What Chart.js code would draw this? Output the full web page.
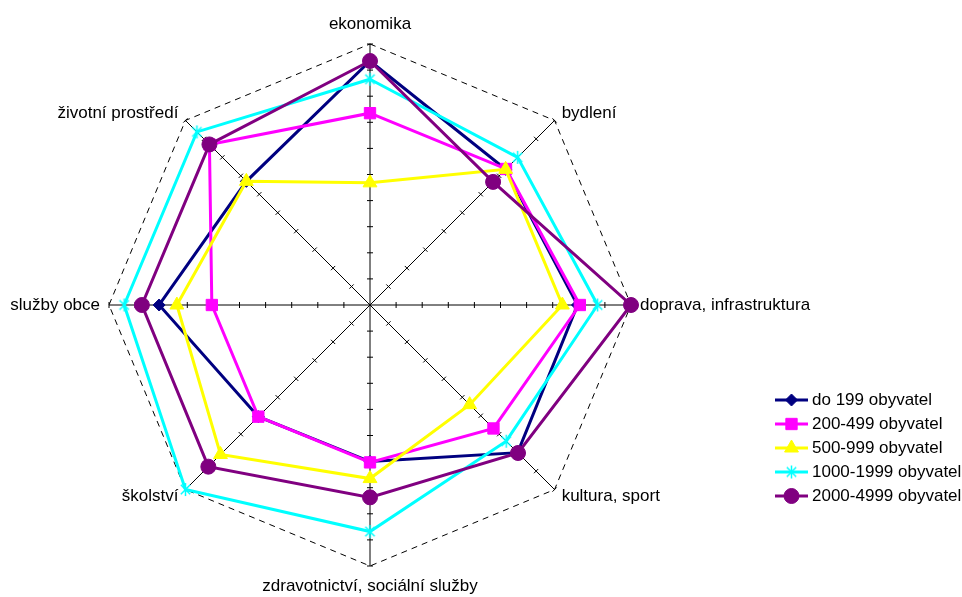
<!DOCTYPE html>
<html lang="cs">
<head>
  <meta charset="UTF-8">
  <title>Spokojenost podle velikosti obce</title>
  <script src="https://cdn.jsdelivr.net/npm/chart.js"></script>
  <style>
    html, body { margin: 0; padding: 0; background: #fff; }
    canvas { display: block; }
  </style>
</head>
<body>
  <canvas id="radar" width="962" height="597"></canvas>

  <script>
    // axes, clockwise from the top
    const axes = ['ekonomika', 'bydlení', 'doprava, infrastruktura', 'kultura, sport',
      'zdravotnictví, sociální služby', 'školství', 'služby obce', 'životní prostředí'];
    const seriesNames = ['do 199 obyvatel', '200-499 obyvatel', '500-999 obyvatel',
      '1000-1999 obyvatel', '2000-4999 obyvatel'];

    // values (10 tick steps from centre to the outer ring)
    const do199 = [9.35, 7.35, 7.95, 8.0, 6.0, 6.05, 8.08, 6.7];
    const od200 = [7.35, 7.37, 8.04, 6.69, 6.03, 6.05, 6.06, 8.7];
    const od500 = [4.68, 7.35, 7.37, 5.4, 6.65, 8.1, 7.4, 6.7];
    const od1000 = [8.65, 8.0, 8.72, 7.38, 8.68, 10.0, 9.42, 9.38];
    const od2000 = [9.35, 6.67, 10.0, 8.02, 7.37, 8.76, 8.74, 8.7];

    const scaleMin = 0;
    const scaleMax = 10;
    const scaleStep = 1;

    const FONT = '"Liberation Sans", Arial, sans-serif';

    // Excel-like asterisk marker (vertical bar + X)
    function asterisk(color, size) {
      const c = document.createElement('canvas');
      c.width = c.height = size;
      const g = c.getContext('2d');
      const m = size / 2, r = size / 2 - 1, d = r * 0.72;
      g.strokeStyle = color;
      g.lineWidth = 1.5;
      g.beginPath();
      g.moveTo(m, m - r); g.lineTo(m, m + r);
      g.moveTo(m - d, m - d); g.lineTo(m + d, m + d);
      g.moveTo(m + d, m - d); g.lineTo(m - d, m + d);
      g.stroke();
      return c;
    }

    const styles = [
      { color: '#000080', pointStyle: 'rectRot', radius: 6 },
      { color: '#FF00FF', pointStyle: 'rect', radius: 8 },
      { color: '#FFFF00', pointStyle: 'triangle', radius: 8 },
      { color: '#00FFFF', pointStyle: asterisk('#00FFFF', 15), radius: 7 },
      { color: '#800080', pointStyle: 'circle', radius: 7.5 }
    ];

    const values = [do199, od200, od500, od1000, od2000];
    const datasets = values.map((v, i) => ({
      label: seriesNames[i],
      data: v,
      borderColor: styles[i].color,
      backgroundColor: styles[i].color,
      pointBackgroundColor: styles[i].color,
      pointBorderColor: styles[i].color,
      pointStyle: styles[i].pointStyle,
      pointRadius: styles[i].radius,
      pointBorderWidth: 1,
      borderWidth: 3,
      fill: false,
      tension: 0,
      order: values.length - i   // later series on top
    }));

    // tick marks on the axes, axis labels and the legend
    const decor = {
      id: 'decor',
      beforeDatasetsDraw(chart) {
        const s = chart.scales.r, ctx = chart.ctx;
        ctx.save();
        ctx.strokeStyle = '#000';
        ctx.lineWidth = 1;
        for (let i = 0; i < axes.length; i++) {
          s.ticks.forEach(t => {
            if (t.value <= scaleMin) return;
            const p = s.getPointPosition(i, s.getDistanceFromCenterForValue(t.value));
            const a = p.angle + Math.PI / 2;
            const dx = Math.cos(a) * 3, dy = Math.sin(a) * 3;
            ctx.beginPath();
            ctx.moveTo(p.x - dx, p.y - dy);
            ctx.lineTo(p.x + dx, p.y + dy);
            ctx.stroke();
          });
        }
        ctx.restore();
      },
      afterDraw(chart) {
        const s = chart.scales.r, ctx = chart.ctx;
        ctx.save();
        ctx.font = '17px ' + FONT;
        ctx.fillStyle = '#000';
        ctx.textBaseline = 'middle';
        axes.forEach((lab, i) => {
          const gap = (i % 2 === 1) ? 10 : (i === 0 || i === 4) ? 20 : 9;
          const p = s.getPointPosition(i, s.drawingArea + gap);
          ctx.textAlign = p.x > s.xCenter + 1 ? 'left' : p.x < s.xCenter - 1 ? 'right' : 'center';
          ctx.fillText(lab, p.x, p.y);
        });

        // legend: line with marker, then the name
        const lx = 775, ly = 400, row = 24;
        chart.data.datasets.forEach((ds, i) => {
          const y = ly + i * row;
          ctx.strokeStyle = ds.borderColor;
          ctx.fillStyle = ds.borderColor;
          ctx.lineWidth = 3;
          ctx.beginPath();
          ctx.moveTo(lx, y);
          ctx.lineTo(lx + 33, y);
          ctx.stroke();
          ctx.lineWidth = 1;
          Chart.helpers.drawPoint(ctx, {
            pointStyle: ds.pointStyle, radius: ds.pointRadius, rotation: 0, borderWidth: 1
          }, lx + 16.5, y);
          ctx.fillStyle = '#000';
          ctx.textAlign = 'left';
          ctx.fillText(ds.label, lx + 37, y);
        });
        ctx.restore();
      }
    };

    new Chart(document.getElementById('radar'), {
      type: 'radar',
      data: { labels: axes, datasets: datasets },
      options: {
        responsive: false,
        animation: false,
        events: [],
        layout: { padding: { left: 109, right: 331, top: 44, bottom: 31 } },
        plugins: { legend: { display: false }, tooltip: { enabled: false } },
        scales: {
          r: {
            min: scaleMin,
            max: scaleMax,
            ticks: { display: false, stepSize: scaleStep },
            pointLabels: { display: false },
            angleLines: { color: '#000', lineWidth: 1 },
            grid: {
              color: c => (c.tick && c.tick.value === scaleMax) ? '#000' : 'rgba(0,0,0,0)',
              lineWidth: c => (c.tick && c.tick.value === scaleMax) ? 1 : 0
            },
            border: { dash: [6, 5] }
          }
        }
      },
      plugins: [decor]
    });
  </script>
</body>
</html>
